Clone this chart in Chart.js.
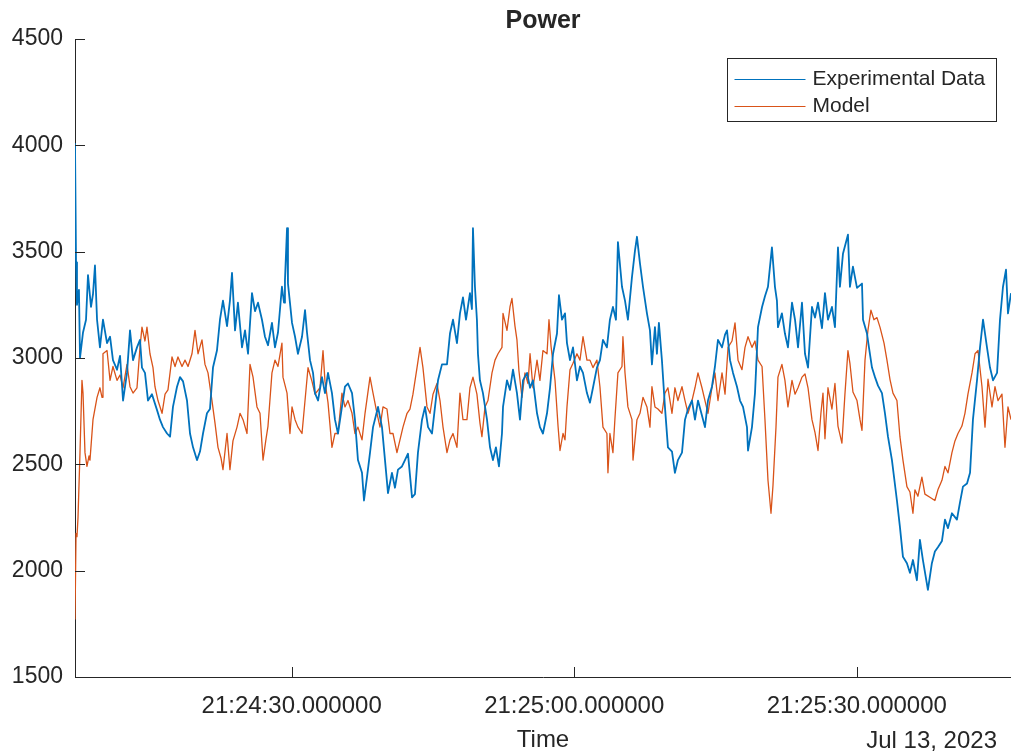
<!DOCTYPE html>
<html>
<head>
<meta charset="utf-8">
<title>Power</title>
<script src="https://cdn.jsdelivr.net/npm/chart.js@4.4.0/dist/chart.umd.min.js"></script>
<style>
  html, body { margin: 0; padding: 0; background: #fff; }
  canvas { display: block; }
</style>
</head>
<body>
<canvas id="chartCanvas" width="1011" height="752"></canvas>
<script>
// time = seconds after 21:24:00 (Jul 13, 2023)
const expTime = [
  7.00,7.11,7.21,7.42,7.53,7.85,8.17,8.38,8.70,8.91,
  9.12,9.34,9.65,9.97,10.40,10.72,11.03,11.46,11.78,12.10,
  12.52,12.84,13.16,13.58,13.90,14.11,14.43,14.75,15.17,15.71,
  16.02,16.34,16.77,17.09,17.40,17.83,18.15,18.47,18.89,19.21,
  19.53,19.95,20.27,20.59,21.01,21.33,21.65,22.07,22.39,22.71,
  23.14,23.45,23.67,23.99,24.30,24.73,25.05,25.37,25.79,26.11,
  26.43,26.85,27.17,27.49,27.91,28.23,28.55,28.97,29.19,29.29,
  29.51,29.61,29.82,30.04,30.36,30.67,31.10,31.42,31.63,31.95,
  32.27,32.48,32.80,33.22,33.54,33.86,34.28,34.60,34.92,35.34,
  35.66,35.98,36.41,36.72,37.04,37.47,37.68,38.00,38.32,38.64,
  39.17,39.59,39.91,40.23,40.65,40.97,41.29,41.71,42.03,42.35,
  42.78,43.09,43.41,43.84,44.16,44.48,44.90,45.22,45.54,45.96,
  46.49,46.81,47.13,47.55,47.87,48.19,48.51,48.93,49.14,49.25,
  49.46,49.67,49.78,49.99,50.31,50.74,51.06,51.37,51.69,52.01,
  52.33,52.44,52.86,53.18,53.50,53.92,54.24,54.56,54.99,55.31,
  55.62,56.05,56.36,56.68,57.11,57.43,57.75,58.17,58.38,58.70,
  59.02,59.23,59.55,59.87,60.29,60.61,60.93,61.35,61.67,61.99,
  62.41,62.73,63.05,63.47,63.79,64.11,64.43,64.64,65.07,65.39,
  65.70,66.13,66.45,66.66,66.98,67.30,67.72,68.04,68.25,68.57,
  68.78,68.99,69.31,69.63,69.95,70.38,70.69,71.01,71.44,71.76,
  72.08,72.50,72.82,73.14,73.56,73.88,74.20,74.62,74.94,75.26,
  75.69,76.01,76.22,76.54,76.86,77.28,77.60,77.92,78.34,78.45,
  78.87,79.19,79.51,79.94,80.25,80.57,80.99,81.31,81.52,81.63,
  82.05,82.37,82.69,83.12,83.44,83.76,84.18,84.50,84.82,85.24,
  85.56,85.88,86.30,86.62,86.94,87.36,87.68,88.00,88.21,88.53,
  89.06,89.27,89.59,90.02,90.55,90.66,91.08,91.29,91.61,91.93,
  92.25,92.67,92.99,93.31,93.73,94.26,94.58,94.90,95.32,95.64,
  95.96,96.38,96.70,97.02,97.55,97.97,98.29,98.61,99.04,99.36,
  99.68,100.10,100.63,100.95,101.27,101.70,102.02,102.33,102.76,103.08,
  103.40,103.82,104.14,104.46,104.89,105.20,105.52,105.84,106.05,106.37
];
const expPower = [
  4010,3450,3250,3320,3000,3120,3180,3390,3240,3300,
  3435,3180,3050,3180,3070,3100,2990,2945,3010,2800,
  2930,3130,2990,3050,3085,2955,2930,2800,2830,2755,
  2710,2675,2645,2630,2770,2865,2910,2890,2800,2645,
  2580,2520,2560,2645,2740,2760,2955,3035,3180,3270,
  3150,3270,3400,3130,3260,3050,3130,3020,3305,3220,
  3260,3180,3100,3060,3165,3050,3120,3335,3260,3365,
  3610,3350,3260,3165,3100,3020,3100,3225,3120,2990,
  2930,2835,2800,2910,2835,2930,2835,2710,2645,2770,
  2865,2880,2835,2710,2520,2460,2330,2440,2555,2675,
  2770,2675,2520,2365,2460,2390,2475,2490,2520,2550,
  2345,2360,2555,2710,2770,2675,2645,2770,2895,2970,
  2970,3115,3180,3070,3210,3285,3180,3305,3230,3610,
  3335,3180,3020,2895,2835,2710,2580,2520,2580,2490,
  2645,2770,2895,2850,2945,2835,2710,2895,2930,2860,
  2895,2740,2675,2645,2740,2860,3020,3115,3295,3180,
  3210,3070,2990,3050,2895,2960,2930,2835,2790,2860,
  2955,2990,3085,3050,3180,3240,3180,3545,3335,3270,
  3180,3380,3505,3570,3445,3335,3210,3130,2970,3145,
  3020,3165,2990,2770,2580,2560,2460,2520,2555,2710,
  2760,2800,2710,2800,2730,2675,2800,2865,2960,3085,
  3050,3110,3130,2990,2930,2865,2800,2770,2675,2565,
  2675,2835,3145,3240,3290,3335,3520,3335,3270,3145,
  3210,3115,3050,3260,3180,3050,3260,3020,2955,3240,
  3190,3260,3140,3305,3180,3240,3145,3520,3335,3490,
  3580,3335,3430,3330,3350,3180,3115,3050,2955,2910,
  2870,2835,2740,2630,2520,2330,2205,2065,2035,1990,
  2050,1955,2145,2050,1910,2035,2090,2110,2140,2240,
  2200,2270,2240,2320,2395,2410,2460,2710,2895,3050,
  3180,3050,2955,2895,2930,3180,3335,3415,3210,3305
];
const modelTime = [
  7.00,7.11,7.21,7.32,7.53,7.74,7.85,8.06,8.27,8.49,
  8.59,8.91,9.34,9.65,9.87,9.97,10.40,10.72,11.03,11.46,
  11.78,12.10,12.52,12.84,13.16,13.58,13.90,14.11,14.43,14.64,
  14.96,15.28,15.49,15.81,16.24,16.56,16.87,17.30,17.62,17.93,
  18.36,18.68,19.00,19.42,19.74,20.06,20.48,20.80,21.12,21.54,
  21.86,22.18,22.50,22.71,23.14,23.45,23.77,24.20,24.52,24.84,
  25.26,25.58,25.90,26.32,26.64,26.96,27.28,27.49,27.91,28.23,
  28.55,28.97,29.08,29.51,29.82,30.04,30.36,30.67,31.10,31.42,
  31.74,32.16,32.48,33.01,33.33,33.54,33.86,34.28,34.60,34.92,
  35.34,35.66,35.98,36.41,36.72,37.04,37.47,37.79,38.32,38.64,
  39.06,39.38,39.70,40.12,40.44,40.76,41.18,41.50,41.82,42.25,
  42.56,42.88,43.31,43.63,43.94,44.37,44.69,45.01,45.43,45.75,
  46.07,46.49,46.81,47.13,47.55,47.87,48.19,48.61,48.93,49.25,
  49.67,49.99,50.20,50.53,50.84,51.27,51.59,51.91,52.33,52.44,
  52.86,53.18,53.39,53.71,53.92,54.13,54.45,54.77,55.09,55.31,
  55.62,56.05,56.36,56.68,57.11,57.32,57.54,57.96,58.28,58.49,
  58.81,59.02,59.23,59.55,59.87,60.29,60.61,60.93,61.35,61.67,
  61.99,62.41,62.73,63.05,63.47,63.58,63.79,64.11,64.33,64.64,
  65.07,65.17,65.39,65.70,66.13,66.24,66.66,66.98,67.30,67.72,
  68.04,68.25,68.57,68.89,69.31,69.63,69.95,70.38,70.69,71.01,
  71.44,71.76,72.08,72.50,72.82,73.14,73.56,73.88,74.20,74.62,
  74.94,75.26,75.69,76.01,76.33,76.75,77.07,77.39,77.81,78.13,
  78.45,78.87,79.19,79.51,79.94,80.25,80.57,80.89,81.10,81.42,
  81.63,82.05,82.37,82.69,83.12,83.44,83.76,84.18,84.50,84.82,
  85.24,85.56,85.88,86.19,86.41,86.62,86.94,87.36,87.68,88.00,
  88.42,88.74,89.06,89.27,89.59,90.02,90.34,90.55,90.87,91.18,
  91.50,91.82,92.14,92.46,92.89,93.20,93.52,93.84,94.26,94.58,
  94.90,95.32,95.64,95.96,96.17,96.49,96.91,97.23,97.76,98.29,
  98.61,99.04,99.36,99.68,100.10,100.42,100.74,101.16,101.48,101.80,
  102.23,102.55,102.87,103.29,103.61,103.93,104.35,104.67,104.99,105.41,
  105.73,106.05,106.37
];
const modelPower = [
  1770,2175,2160,2250,2555,2895,2835,2555,2490,2540,
  2520,2710,2815,2860,2815,3020,3035,2895,2960,2895,
  2920,2860,2970,2865,2835,2860,3050,3145,3080,3145,
  3020,2955,2865,2800,2740,2830,2850,3005,2960,3005,
  2960,2990,2960,3020,3130,3020,3085,2970,2930,2800,
  2695,2580,2530,2475,2645,2475,2610,2675,2740,2710,
  2645,2970,2910,2770,2740,2520,2620,2680,2930,2990,
  2960,3070,2910,2835,2645,2770,2710,2675,2645,2800,
  2955,2890,2830,2860,3035,2890,2790,2580,2645,2645,
  2835,2770,2800,2740,2645,2675,2615,2740,2910,2835,
  2740,2675,2770,2760,2645,2645,2555,2615,2675,2740,
  2760,2830,2955,3050,2955,2770,2740,2830,2880,2800,
  2675,2555,2615,2645,2580,2835,2710,2710,2860,2910,
  2830,2695,2630,2770,2800,2930,2990,3020,3050,3210,
  3130,3240,3280,3150,3085,2940,2815,2930,2880,3020,
  2860,2990,2895,3035,3020,3180,3055,2895,2680,2565,
  2645,2615,2770,2945,2975,3020,2990,3100,2990,2990,
  2955,2990,2865,2675,2645,2460,2645,2555,2720,2930,
  2960,3100,2930,2770,2710,2520,2710,2740,2815,2770,
  2675,2865,2770,2760,2740,2835,2860,2740,2860,2800,
  2865,2800,2740,2800,2860,2930,2860,2800,2740,2860,
  2930,2800,2930,2830,3050,3080,3165,2990,2945,3050,
  3100,3050,3080,2990,2960,2710,2425,2270,2400,2675,
  2910,2970,2895,2770,2895,2830,2860,2910,2925,2860,
  2710,2650,2565,2740,2835,2620,2860,2760,2880,2680,
  2600,2830,3035,2975,2840,2800,2710,2660,2990,3130,
  3225,3180,3190,3145,3070,2990,2900,2835,2800,2630,
  2520,2395,2370,2270,2380,2350,2440,2360,2345,2330,
  2380,2425,2490,2460,2555,2610,2645,2680,2740,2830,
  2930,3020,3035,2865,2675,2900,2770,2865,2800,2830,
  2580,2770,2710
];
const yTicks = [1500, 2000, 2500, 3000, 3500, 4000, 4500];
const xTicks = [30, 60, 90];
const seriesNames = ["Experimental Data", "Model"];
const dateLabel = "Jul 13, 2023";

const FONT = '"Liberation Sans", Arial, Helvetica, sans-serif';
const TEXT = '#262626';
const colors = ['#0072BD', '#D95319'];

function timeLabel(sec) {
  const total = 21 * 3600 + 24 * 60 + sec;
  const pad = (n) => String(n).padStart(2, '0');
  const h = Math.floor(total / 3600);
  const m = Math.floor(total / 60) % 60;
  const s = Math.round(total % 60);
  return `${h}:${pad(m)}:${pad(s)}.000000`;
}

const toPoints = (ts, vs) => ts.map((t, i) => ({ x: t, y: vs[i] }));

// inward tick marks, date stamp and boxed legend, matlab style
const decorations = {
  id: 'decorations',
  afterDraw(chart) {
    const { ctx, chartArea: a, scales: { x, y } } = chart;
    ctx.save();
    ctx.strokeStyle = TEXT;
    ctx.lineWidth = 1;
    ctx.beginPath();
    yTicks.forEach(v => {
      const py = Math.round(y.getPixelForValue(v)) + 0.5;
      ctx.moveTo(a.left, py);
      ctx.lineTo(a.left + 10, py);
    });
    xTicks.forEach(v => {
      const px = Math.round(x.getPixelForValue(v)) + 0.5;
      ctx.moveTo(px, a.bottom);
      ctx.lineTo(px, a.bottom - 10);
    });
    ctx.stroke();

    ctx.fillStyle = TEXT;
    ctx.font = `24px ${FONT}`;
    ctx.textAlign = 'right';
    ctx.textBaseline = 'middle';
    ctx.fillText(dateLabel, a.right - 14, 741);

    const bx = a.right - 283.5, by = a.top + 19.5, bw = 269, bh = 63;
    ctx.fillStyle = '#fff';
    ctx.fillRect(bx, by, bw, bh);
    ctx.strokeRect(bx, by, bw, bh);
    ctx.font = `21px ${FONT}`;
    ctx.textAlign = 'left';
    seriesNames.forEach((name, i) => {
      const ly = by + 21 + i * 27;
      ctx.strokeStyle = colors[i];
      ctx.beginPath();
      ctx.moveTo(bx + 7, ly);
      ctx.lineTo(bx + 78, ly);
      ctx.stroke();
      ctx.fillStyle = TEXT;
      ctx.fillText(name, bx + 85, ly);
    });
    ctx.restore();
  }
};

const ctx = document.getElementById("chartCanvas").getContext("2d");
const chart = new Chart(ctx, {
  type: 'line',
  data: {
    datasets: [
      { label: seriesNames[0], data: toPoints(expTime, expPower), borderColor: colors[0], borderWidth: 1.8 },
      { label: seriesNames[1], data: toPoints(modelTime, modelPower), borderColor: colors[1], borderWidth: 1.3 }
    ]
  },
  options: {
    responsive: false,
    animation: false,
    devicePixelRatio: 1,
    layout: { padding: 0 },
    elements: {
      point: { radius: 0 },
      line: { tension: 0, fill: false, borderJoinStyle: 'round' }
    },
    plugins: {
      legend: { display: false },
      tooltip: { enabled: false },
      title: {
        display: true,
        fullSize: false,
        text: 'Power',
        color: TEXT,
        font: { family: FONT, size: 25, weight: 'bold' },
        padding: { top: 6, bottom: 3 }
      }
    },
    scales: {
      x: {
        type: 'linear',
        min: 7,
        max: 106.37,
        grid: { display: false, drawTicks: false },
        border: { display: true, color: TEXT, width: 1 },
        ticks: {
          color: TEXT,
          font: { family: FONT, size: 24 },
          padding: 15,
          maxRotation: 0,
          callback: (v) => timeLabel(v)
        },
        afterBuildTicks: (s) => { s.ticks = xTicks.map(v => ({ value: v })); },
        afterFit: (s) => { s.height = 75; },
        title: {
          display: true,
          text: 'Time',
          color: TEXT,
          font: { family: FONT, size: 24 },
          padding: { top: 0, bottom: -3 }
        }
      },
      y: {
        min: 1500,
        max: 4500,
        grid: { display: false, drawTicks: false },
        border: { display: true, color: TEXT, width: 1 },
        ticks: {
          color: TEXT,
          font: { family: FONT, size: 23 },
          padding: 12,
          callback: (v) => String(v)
        },
        afterBuildTicks: (s) => { s.ticks = yTicks.map(v => ({ value: v })); },
        afterFit: (s) => { s.width = 75; }
      }
    }
  },
  plugins: [decorations]
});
</script>
</body>
</html>
